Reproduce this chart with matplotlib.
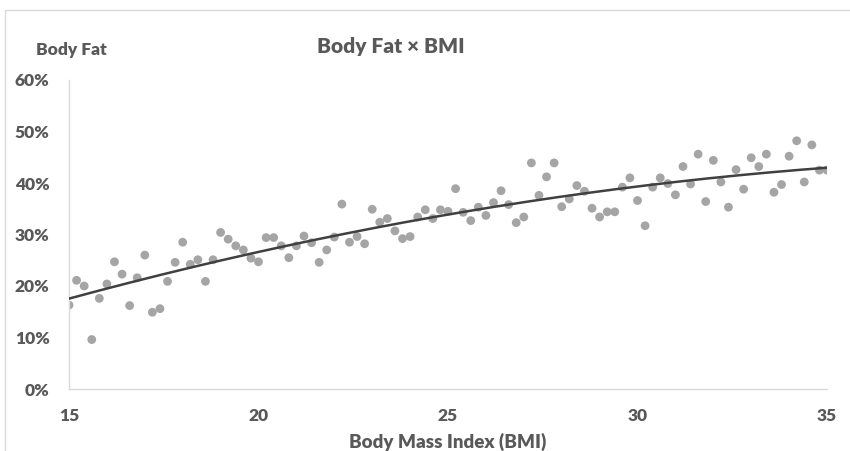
import numpy as np
import matplotlib
matplotlib.use("Agg")
import matplotlib.pyplot as plt
from matplotlib.ticker import PercentFormatter
from matplotlib.patches import Rectangle

plt.rcParams['font.family'] = ['Lato', 'DejaVu Sans']

# BMI values (x) and body fat share in % (y)
bmi = [15.0, 15.2, 15.4, 15.6, 15.8, 16.0, 16.2, 16.4, 16.6, 16.8,
       17.0, 17.2, 17.4, 17.6, 17.8, 18.0, 18.2, 18.4, 18.6, 18.8,
       19.0, 19.2, 19.4, 19.6, 19.8, 20.0, 20.2, 20.4, 20.6, 20.8,
       21.0, 21.2, 21.4, 21.6, 21.8, 22.0, 22.2, 22.4, 22.6, 22.8,
       23.0, 23.2, 23.4, 23.6, 23.8, 24.0, 24.2, 24.4, 24.6, 24.8,
       25.0, 25.2, 25.4, 25.6, 25.8, 26.0, 26.2, 26.4, 26.6, 26.8,
       27.0, 27.2, 27.4, 27.6, 27.8, 28.0, 28.2, 28.4, 28.6, 28.8,
       29.0, 29.2, 29.4, 29.6, 29.8, 30.0, 30.2, 30.4, 30.6, 30.8,
       31.0, 31.2, 31.4, 31.6, 31.8, 32.0, 32.2, 32.4, 32.6, 32.8,
       33.0, 33.2, 33.4, 33.6, 33.8, 34.0, 34.2, 34.4, 34.6, 34.8,
       35.0]
body_fat = [16.3, 21.1, 20.0, 9.6, 17.6, 20.4, 24.7, 22.3, 16.2, 21.6,
            26.0, 14.9, 15.6, 20.9, 24.6, 28.5, 24.2, 25.1, 20.9, 25.1,
            30.4, 29.1, 27.8, 27.0, 25.4, 24.7, 29.4, 29.4, 27.8, 25.5,
            27.8, 29.7, 28.4, 24.6, 27.0, 29.5, 35.9, 28.5, 29.6, 28.2,
            34.9, 32.4, 33.1, 30.7, 29.2, 29.6, 33.4, 34.8, 33.1, 34.8,
            34.5, 38.9, 34.3, 32.7, 35.3, 33.7, 36.2, 38.5, 35.8, 32.3,
            33.4, 43.9, 37.6, 41.2, 43.9, 35.4, 36.9, 39.5, 38.4, 35.1,
            33.4, 34.4, 34.4, 39.2, 41.0, 36.6, 31.7, 39.2, 41.0, 39.9,
            37.7, 43.2, 39.8, 45.6, 36.4, 44.4, 40.2, 35.3, 42.6, 38.8,
            44.9, 43.2, 45.6, 38.2, 39.7, 45.2, 48.2, 40.2, 47.4, 42.5,
            42.5]

x = np.array(bmi)
y = np.array(body_fat)

text_color = '#595959'

fig = plt.figure(figsize=(8.5, 4.51), dpi=100)
ax = fig.add_axes([69 / 850, 62 / 451, 758 / 850, 309 / 451])

ax.scatter(x, y, s=40, color='#A5A5A5', edgecolors='none', zorder=2)

# polynomial (order 2) trend line, as in the spreadsheet chart
coef = np.polyfit(x, y, 2)
xs = np.linspace(15, 35, 200)
ax.plot(xs, np.polyval(coef, xs), color='#404040', lw=1.8, zorder=3)

ax.set_xlim(15, 35)
ax.set_ylim(0, 60)
ax.set_xticks([15, 20, 25, 30, 35])
ax.set_yticks([0, 10, 20, 30, 40, 50, 60])
ax.yaxis.set_major_formatter(PercentFormatter(decimals=0))

for side in ['top', 'right']:
    ax.spines[side].set_visible(False)
for side in ['left', 'bottom']:
    ax.spines[side].set_color('#D9D9D9')
    ax.spines[side].set_linewidth(1.0)

ax.tick_params(length=0, colors=text_color, labelsize=12.5)
ax.tick_params(axis='x', pad=14)
ax.tick_params(axis='y', pad=14)
for lab in ax.get_xticklabels() + ax.get_yticklabels():
    lab.set_fontweight('heavy')

ax.set_xlabel('Body Mass Index (BMI)', fontsize=13.5, fontweight='heavy',
              color=text_color, labelpad=6)
fig.text(391 / 850, 1 - 47 / 451, 'Body Fat × BMI', fontsize=15, fontweight='heavy',
         color=text_color, ha='center', va='center')
fig.text(71 / 850, 1 - 50 / 451, 'Body Fat', fontsize=12.5, fontweight='heavy',
         color=text_color, ha='center', va='center')

# chart frame
fig.patches.append(Rectangle((5 / 850, -0.1), 1.2, 1.1 - 10 / 451,
                             transform=fig.transFigure, fill=False,
                             edgecolor='#D9D9D9', lw=1.0))

fig.savefig('out.png', dpi=100)
